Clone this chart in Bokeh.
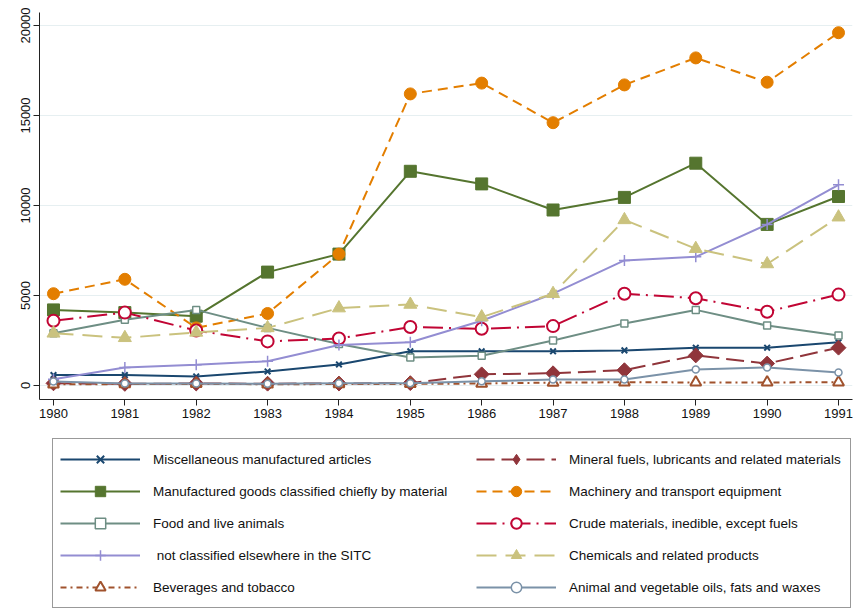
import math
from bokeh.plotting import figure
from bokeh.layouts import column
from bokeh.models import Legend, LegendItem, FixedTicker, Range1d, ColumnDataSource
from bokeh.embed import file_html
from bokeh.resources import INLINE

# Imports by SITC section, 1980-1991
years = [1980, 1981, 1982, 1983, 1984, 1985, 1986, 1987, 1988, 1989, 1990, 1991]

misc_manufactured = [580, 580, 500, 780, 1170, 1900, 1900, 1900, 1950, 2100, 2100, 2400]
mineral_fuels = [120, 90, 110, 100, 110, 130, 620, 680, 850, 1670, 1220, 2100]
manufactured_goods = [4200, 4050, 3850, 6300, 7300, 11900, 11200, 9750, 10450, 12350, 8950, 10500]
machinery = [5100, 5900, 3200, 4000, 7300, 16200, 16800, 14600, 16700, 18200, 16850, 19600]
food_animals = [2900, 3650, 4200, 3200, 2300, 1560, 1650, 2500, 3450, 4200, 3330, 2780]
crude_materials = [3600, 4050, 3050, 2450, 2610, 3250, 3150, 3300, 5100, 4850, 4100, 5050]
not_classified = [350, 1000, 1150, 1350, 2250, 2400, 3600, 5100, 6950, 7150, 8950, 11150]
chemicals = [2900, 2650, 2950, 3200, 4300, 4500, 3800, 5100, 9200, 7600, 6750, 9350]
beverages = [60, 80, 90, 70, 80, 90, 110, 160, 180, 170, 170, 180]
oils_fats = [220, 110, 110, 100, 130, 130, 230, 330, 330, 890, 1000, 720]

labels = [
    "Miscellaneous manufactured articles",
    "Mineral fuels, lubricants and related materials",
    "Manufactured goods classified chiefly by material",
    "Machinery and transport equipment",
    "Food and live animals",
    "Crude materials, inedible, except fuels",
    " not classified elsewhere in the SITC",
    "Chemicals and related products",
    "Beverages and tobacco",
    "Animal and vegetable oils, fats and waxes",
]
values = [misc_manufactured, mineral_fuels, manufactured_goods, machinery, food_animals,
          crude_materials, not_classified, chemicals, beverages, oils_fats]

# (color, dash, marker, size, filled, marker line width, angle, key marker)
styles = [
    ("#1a476f", "solid", "x", 8, True, 2.0, 0.0, "x"),
    ("#90353b", "18 7", "square", 10.5, True, 1.0, math.pi / 4, "diamond"),
    ("#55752f", "solid", "square", 12, True, 1.0, 0.0, "square"),
    ("#e37e00", "10 6", "circle", 12, True, 1.0, 0.0, "circle"),
    ("#6e8e84", "solid", "square", 7, False, 1.5, 0.0, "square"),
    ("#c10534", "20 6 2 6", "circle", 12, False, 2.0, 0.0, "circle"),
    ("#938dd2", "solid", "cross", 11, False, 1.5, 0.0, "cross"),
    ("#cac27e", "20 9", "triangle", 13, True, 1.0, 0.0, "triangle"),
    ("#a0522d", "6 4 2 4", "triangle", 11, False, 2.0, 0.0, "triangle"),
    ("#7b92a8", "solid", "circle", 7, False, 1.5, 0.0, "circle"),
]

FONT = "Liberation Sans"

# ---- main chart ----
p = figure(width=853, height=430, output_backend="svg", toolbar_location=None,
           x_range=Range1d(1979.804, 1991.196), y_range=Range1d(-778, 20722),
           min_border_left=39, min_border_right=1, min_border_top=12,
           min_border_bottom=31,
           background_fill_color="white", border_fill_color="white")
p.outline_line_color = None
p.xgrid.grid_line_color = None
p.ygrid.grid_line_color = "#e6eff1"
p.ygrid.grid_line_width = 1.2

p.xaxis.ticker = FixedTicker(ticks=years)
p.yaxis.ticker = FixedTicker(ticks=[0, 5000, 10000, 15000, 20000])
for ax in (p.xaxis, p.yaxis):
    ax.axis_line_color = "#222222"
    ax.major_tick_line_color = "#222222"
    ax.major_tick_out = 6
    ax.major_tick_in = 0
    ax.minor_tick_line_color = None
    ax.major_label_text_font = FONT
    ax.major_label_text_font_size = "13px"
    ax.major_label_text_color = "#111111"
    ax.major_label_standoff = 3
p.yaxis.major_label_orientation = "vertical"

for vals, (color, dash, marker, size, filled, mlw, angle, _) in zip(values, styles):
    src = ColumnDataSource(dict(year=years, value=vals))
    p.line("year", "value", source=src, line_color=color, line_width=2, line_dash=dash)
    p.scatter("year", "value", source=src, marker=marker, size=size, angle=angle,
              line_color=color, line_width=mlw,
              fill_color=color if filled else "white")

# ---- key, drawn in its own strip under the chart (frame aligned with the chart's) ----
lf = figure(width=853, height=181, output_backend="svg", toolbar_location=None,
            x_range=Range1d(0, 1), y_range=Range1d(0, 1),
            x_axis_location=None, y_axis_location=None,
            min_border=0, background_fill_color="white", border_fill_color="white")
lf.outline_line_color = None
lf.grid.grid_line_color = None

nan = float("nan")
items = []
for label, (color, dash, marker, size, filled, mlw, angle, key_marker) in zip(labels, styles):
    placeholder = ColumnDataSource(dict(x=[nan], y=[nan]))
    lr = lf.line("x", "y", source=placeholder, line_color=color, line_width=2, line_dash=dash)
    sr = lf.scatter("x", "y", source=placeholder, marker=key_marker, size=size,
                    line_color=color, line_width=mlw,
                    fill_color=color if filled else "white")
    items.append(LegendItem(label=label, renderers=[lr, sr]))

common = dict(glyph_width=80, glyph_height=26, spacing=6, padding=7, margin=0,
              label_standoff=13, label_text_font=FONT, label_text_font_size="13.5px",
              label_text_color="#111111")

# left column carries the frame for the whole key
left_key = Legend(items=items[0::2], location=(13, 3), label_width=690,
                  border_line_color="#333333", border_line_width=1,
                  background_fill_color="white", **common)
right_key = Legend(items=items[1::2], location=(437, 11),
                   border_line_color=None, background_fill_alpha=0, **common)
lf.add_layout(left_key)
lf.add_layout(right_key)

open("out.html", "w").write(file_html(column(p, lf, spacing=0), INLINE))
